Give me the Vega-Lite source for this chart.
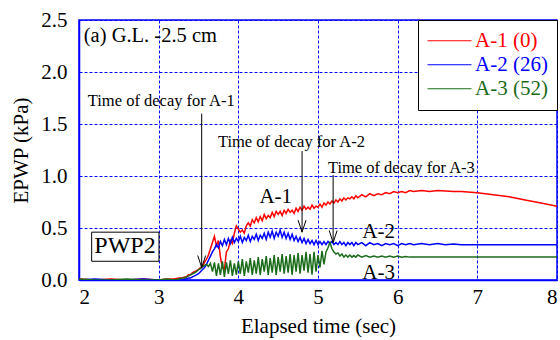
{
  "$schema": "https://vega.github.io/schema/vega-lite/v6.json",
  "width": 478,
  "height": 260,
  "autosize": "none",
  "padding": {"left": 79, "top": 20, "right": 3, "bottom": 60},
  "config": {
    "font": "Liberation Serif",
    "view": {"stroke": "#0000ff", "strokeWidth": 1.5},
    "axis": {
      "labelFont": "Liberation Serif", "titleFont": "Liberation Serif",
      "labelFontSize": 21, "titleFontSize": 21, "labelColor": "black", "titleColor": "black",
      "titleFontWeight": "normal", "gridColor": "#0000ff", "gridDash": [3, 2], "gridOpacity": 1,
      "gridWidth": 1, "domainColor": "#0000ff", "domainWidth": 1.5, "ticks": false
    },
    "legend": {"labelFont": "Liberation Serif"}
  },
  "datasets": {
    "ts": [
      {"t": 2.0, "a1": 0.01, "a2": 0.0, "a3": 0.01},
      {"t": 2.2, "a1": 0.0, "a2": 0.01, "a3": 0.0},
      {"t": 2.4, "a1": 0.01, "a2": 0.0, "a3": 0.0},
      {"t": 2.6, "a1": 0.0, "a2": 0.0, "a3": 0.01},
      {"t": 2.8, "a1": 0.01, "a2": 0.01, "a3": 0.0},
      {"t": 3.0, "a1": 0.0, "a2": 0.0, "a3": 0.0},
      {"t": 3.1, "a1": 0.01, "a2": 0.0, "a3": 0.01},
      {"t": 3.2, "a1": 0.01, "a2": 0.0, "a3": 0.0},
      {"t": 3.25, "a1": 0.02, "a2": 0.0, "a3": 0.01},
      {"t": 3.3, "a1": 0.02, "a2": 0.0, "a3": 0.02},
      {"t": 3.325, "a1": 0.03, "a2": 0.01, "a3": 0.02},
      {"t": 3.35, "a1": 0.03, "a2": 0.01, "a3": 0.03},
      {"t": 3.375, "a1": 0.05, "a2": 0.02, "a3": 0.04},
      {"t": 3.4, "a1": 0.05, "a2": 0.02, "a3": 0.05},
      {"t": 3.425, "a1": 0.07, "a2": 0.03, "a3": 0.06},
      {"t": 3.45, "a1": 0.08, "a2": 0.04, "a3": 0.07},
      {"t": 3.475, "a1": 0.09, "a2": 0.05, "a3": 0.08},
      {"t": 3.5, "a1": 0.1, "a2": 0.06, "a3": 0.1},
      {"t": 3.525, "a1": 0.12, "a2": 0.08, "a3": 0.11},
      {"t": 3.55, "a1": 0.13, "a2": 0.1, "a3": 0.13},
      {"t": 3.575, "a1": 0.17, "a2": 0.12, "a3": 0.14},
      {"t": 3.6, "a1": 0.2, "a2": 0.15, "a3": 0.15},
      {"t": 3.625, "a1": 0.24, "a2": 0.19, "a3": 0.13},
      {"t": 3.65, "a1": 0.3, "a2": 0.23, "a3": 0.16},
      {"t": 3.675, "a1": 0.36, "a2": 0.27, "a3": 0.08},
      {"t": 3.7, "a1": 0.42, "a2": 0.3, "a3": 0.17},
      {"t": 3.725, "a1": 0.33, "a2": 0.34, "a3": 0.04},
      {"t": 3.75, "a1": 0.38, "a2": 0.31, "a3": 0.16},
      {"t": 3.775, "a1": 0.22, "a2": 0.37, "a3": 0.05},
      {"t": 3.8, "a1": 0.12, "a2": 0.33, "a3": 0.18},
      {"t": 3.825, "a1": 0.1, "a2": 0.39, "a3": 0.03},
      {"t": 3.85, "a1": 0.27, "a2": 0.34, "a3": 0.17},
      {"t": 3.875, "a1": 0.3, "a2": 0.4, "a3": 0.06},
      {"t": 3.9, "a1": 0.38, "a2": 0.35, "a3": 0.19},
      {"t": 3.925, "a1": 0.35, "a2": 0.41, "a3": 0.04},
      {"t": 3.95, "a1": 0.45, "a2": 0.36, "a3": 0.16},
      {"t": 3.975, "a1": 0.52, "a2": 0.4, "a3": 0.05},
      {"t": 4.0, "a1": 0.49, "a2": 0.37, "a3": 0.18},
      {"t": 4.025, "a1": 0.46, "a2": 0.42, "a3": 0.06},
      {"t": 4.05, "a1": 0.48, "a2": 0.36, "a3": 0.2},
      {"t": 4.075, "a1": 0.45, "a2": 0.41, "a3": 0.04},
      {"t": 4.1, "a1": 0.52, "a2": 0.38, "a3": 0.18},
      {"t": 4.125, "a1": 0.55, "a2": 0.43, "a3": 0.07},
      {"t": 4.15, "a1": 0.52, "a2": 0.37, "a3": 0.21},
      {"t": 4.175, "a1": 0.58, "a2": 0.42, "a3": 0.05},
      {"t": 4.2, "a1": 0.55, "a2": 0.39, "a3": 0.19},
      {"t": 4.225, "a1": 0.6, "a2": 0.44, "a3": 0.06},
      {"t": 4.25, "a1": 0.56, "a2": 0.38, "a3": 0.22},
      {"t": 4.275, "a1": 0.61, "a2": 0.43, "a3": 0.05},
      {"t": 4.3, "a1": 0.57, "a2": 0.4, "a3": 0.2},
      {"t": 4.325, "a1": 0.63, "a2": 0.45, "a3": 0.08},
      {"t": 4.35, "a1": 0.59, "a2": 0.39, "a3": 0.23},
      {"t": 4.375, "a1": 0.62, "a2": 0.46, "a3": 0.05},
      {"t": 4.4, "a1": 0.6, "a2": 0.41, "a3": 0.21},
      {"t": 4.425, "a1": 0.65, "a2": 0.47, "a3": 0.07},
      {"t": 4.45, "a1": 0.61, "a2": 0.4, "a3": 0.24},
      {"t": 4.475, "a1": 0.66, "a2": 0.46, "a3": 0.05},
      {"t": 4.5, "a1": 0.63, "a2": 0.42, "a3": 0.22},
      {"t": 4.525, "a1": 0.66, "a2": 0.48, "a3": 0.08},
      {"t": 4.55, "a1": 0.62, "a2": 0.41, "a3": 0.25},
      {"t": 4.575, "a1": 0.67, "a2": 0.46, "a3": 0.06},
      {"t": 4.6, "a1": 0.64, "a2": 0.4, "a3": 0.23},
      {"t": 4.625, "a1": 0.68, "a2": 0.45, "a3": 0.07},
      {"t": 4.65, "a1": 0.65, "a2": 0.39, "a3": 0.25},
      {"t": 4.675, "a1": 0.67, "a2": 0.44, "a3": 0.05},
      {"t": 4.7, "a1": 0.64, "a2": 0.38, "a3": 0.24},
      {"t": 4.725, "a1": 0.69, "a2": 0.42, "a3": 0.08},
      {"t": 4.75, "a1": 0.66, "a2": 0.37, "a3": 0.26},
      {"t": 4.775, "a1": 0.7, "a2": 0.41, "a3": 0.06},
      {"t": 4.8, "a1": 0.67, "a2": 0.36, "a3": 0.24},
      {"t": 4.825, "a1": 0.71, "a2": 0.4, "a3": 0.09},
      {"t": 4.85, "a1": 0.68, "a2": 0.35, "a3": 0.27},
      {"t": 4.875, "a1": 0.7, "a2": 0.39, "a3": 0.07},
      {"t": 4.9, "a1": 0.68, "a2": 0.35, "a3": 0.25},
      {"t": 4.925, "a1": 0.72, "a2": 0.38, "a3": 0.05},
      {"t": 4.95, "a1": 0.69, "a2": 0.34, "a3": 0.27},
      {"t": 4.975, "a1": 0.71, "a2": 0.38, "a3": 0.08},
      {"t": 5.0, "a1": 0.7, "a2": 0.34, "a3": 0.24},
      {"t": 5.025, "a1": 0.73, "a2": 0.37, "a3": 0.12},
      {"t": 5.05, "a1": 0.7, "a2": 0.34, "a3": 0.28},
      {"t": 5.075, "a1": 0.74, "a2": 0.37, "a3": 0.15},
      {"t": 5.1, "a1": 0.72, "a2": 0.34, "a3": 0.27},
      {"t": 5.125, "a1": 0.75, "a2": 0.37, "a3": 0.31},
      {"t": 5.15, "a1": 0.73, "a2": 0.35, "a3": 0.36},
      {"t": 5.175, "a1": 0.76, "a2": 0.37, "a3": 0.3},
      {"t": 5.2, "a1": 0.74, "a2": 0.34, "a3": 0.27},
      {"t": 5.225, "a1": 0.77, "a2": 0.36, "a3": 0.25},
      {"t": 5.25, "a1": 0.75, "a2": 0.34, "a3": 0.26},
      {"t": 5.275, "a1": 0.78, "a2": 0.37, "a3": 0.23},
      {"t": 5.3, "a1": 0.76, "a2": 0.34, "a3": 0.25},
      {"t": 5.325, "a1": 0.79, "a2": 0.36, "a3": 0.22},
      {"t": 5.35, "a1": 0.77, "a2": 0.33, "a3": 0.24},
      {"t": 5.375, "a1": 0.79, "a2": 0.36, "a3": 0.22},
      {"t": 5.4, "a1": 0.78, "a2": 0.34, "a3": 0.24},
      {"t": 5.425, "a1": 0.8, "a2": 0.36, "a3": 0.22},
      {"t": 5.45, "a1": 0.78, "a2": 0.33, "a3": 0.235},
      {"t": 5.475, "a1": 0.81, "a2": 0.36, "a3": 0.22},
      {"t": 5.5, "a1": 0.79, "a2": 0.34, "a3": 0.24},
      {"t": 5.55, "a1": 0.82, "a2": 0.36, "a3": 0.22},
      {"t": 5.6, "a1": 0.8, "a2": 0.33, "a3": 0.235},
      {"t": 5.65, "a1": 0.83, "a2": 0.36, "a3": 0.22},
      {"t": 5.7, "a1": 0.81, "a2": 0.34, "a3": 0.23},
      {"t": 5.75, "a1": 0.83, "a2": 0.35, "a3": 0.22},
      {"t": 5.8, "a1": 0.82, "a2": 0.33, "a3": 0.23},
      {"t": 5.85, "a1": 0.84, "a2": 0.35, "a3": 0.22},
      {"t": 5.9, "a1": 0.83, "a2": 0.34, "a3": 0.23},
      {"t": 5.95, "a1": 0.85, "a2": 0.35, "a3": 0.22},
      {"t": 6.0, "a1": 0.84, "a2": 0.33, "a3": 0.23},
      {"t": 6.05, "a1": 0.85, "a2": 0.35, "a3": 0.22},
      {"t": 6.1, "a1": 0.84, "a2": 0.34, "a3": 0.225},
      {"t": 6.15, "a1": 0.86, "a2": 0.35, "a3": 0.22},
      {"t": 6.2, "a1": 0.85, "a2": 0.34, "a3": 0.22},
      {"t": 6.3, "a1": 0.86, "a2": 0.35, "a3": 0.22},
      {"t": 6.4, "a1": 0.85, "a2": 0.34, "a3": 0.22},
      {"t": 6.5, "a1": 0.86, "a2": 0.35, "a3": 0.22},
      {"t": 6.6, "a1": 0.855, "a2": 0.34, "a3": 0.22},
      {"t": 6.7, "a1": 0.85, "a2": 0.345, "a3": 0.22},
      {"t": 6.8, "a1": 0.85, "a2": 0.34, "a3": 0.22},
      {"t": 7.0, "a1": 0.84, "a2": 0.34, "a3": 0.22},
      {"t": 7.2, "a1": 0.82, "a2": 0.34, "a3": 0.22},
      {"t": 7.4, "a1": 0.8, "a2": 0.34, "a3": 0.22},
      {"t": 7.6, "a1": 0.77, "a2": 0.34, "a3": 0.22},
      {"t": 7.8, "a1": 0.74, "a2": 0.34, "a3": 0.22},
      {"t": 8.0, "a1": 0.71, "a2": 0.34, "a3": 0.22}
    ],
    "arrows": [
      {"x": 3.54, "y1": 1.6, "y2": 0.12},
      {"x": 4.8, "y1": 1.24, "y2": 0.46},
      {"x": 5.19, "y1": 1.01, "y2": 0.36}
    ],
    "decay": [
      {"x": 2.11, "y": 1.72, "label": "Time of decay for A-1"},
      {"x": 3.744, "y": 1.324, "label": "Time of decay for A-2"},
      {"x": 5.124, "y": 1.08, "label": "Time of decay for A-3"}
    ],
    "labels": [
      {"x": 2.06, "y": 2.35, "label": "(a) G.L. -2.5 cm", "align": "left"},
      {"x": 4.47, "y": 0.8, "label": "A-1"},
      {"x": 5.76, "y": 0.46, "label": "A-2"},
      {"x": 5.76, "y": 0.07, "label": "A-3"}
    ],
    "box": [
      {"x1": 2.159, "x2": 3.004, "y1": 0.46, "y2": 0.18, "xc": 2.577, "yc": 0.324, "label": "PWP2"}
    ]
  },
  "layer": [
    {
      "data": {"name": "ts"},
      "transform": [{"fold": ["a1", "a2", "a3"], "as": ["s", "v"]}],
      "mark": {"type": "line", "strokeWidth": 1.5, "clip": true},
      "encoding": {
        "x": {"field": "t", "type": "quantitative", "scale": {"domain": [2, 8], "nice": false},
              "axis": {"title": "Elapsed time (sec)", "values": [2, 3, 4, 5, 6, 7, 8], "format": "d",
                       "labelFont": "Liberation Serif", "titleFont": "Liberation Serif",
                       "labelPadding": 6, "titlePadding": 8}},
        "y": {"field": "v", "type": "quantitative", "scale": {"domain": [0, 2.5], "nice": false},
              "axis": {"title": "EPWP (kPa)", "values": [0, 0.5, 1, 1.5, 2, 2.5], "format": ".1f",
                       "labelFont": "Liberation Serif", "titleFont": "Liberation Serif",
                       "labelPadding": 12, "titlePadding": 9}},
        "color": {"field": "s", "type": "nominal",
                  "scale": {"domain": ["a1", "a2", "a3"], "range": ["#ff0000", "#0000ff", "#1a6b1a"]},
                  "legend": {"title": null, "orient": "top-right", "offset": 0,
                             "labelExpr": "datum.label == 'a1' ? 'A-1 (0)' : datum.label == 'a2' ? 'A-2 (26)' : 'A-3 (52)'",
                             "labelFont": "Liberation Serif", "labelFontSize": 21, "symbolType": "stroke",
                             "symbolSize": 1936, "symbolStrokeWidth": 1, "strokeColor": "black", "fillColor": "white",
                             "padding": 9, "rowPadding": 0, "labelOffset": 3, "clipHeight": 23.5,
                             "encode": {
                               "labels": {"update": {"fill": {"scale": "color", "field": "value"}, "font": {"value": "Liberation Serif"}}}}}}
      }
    },
    {
      "data": {"name": "arrows"},
      "mark": {"type": "rule", "color": "black", "strokeWidth": 1},
      "encoding": {
        "x": {"field": "x", "type": "quantitative"},
        "y": {"field": "y1", "type": "quantitative"},
        "y2": {"field": "y2"}
      }
    },
    {
      "data": {"name": "arrows"},
      "mark": {"type": "point", "shape": "M-0.33,-1L0,0L0.33,-1", "filled": false, "stroke": "black", "strokeWidth": 1, "size": 576, "opacity": 1},
      "encoding": {
        "x": {"field": "x", "type": "quantitative"},
        "y": {"field": "y2", "type": "quantitative"}
      }
    },
    {
      "data": {"name": "decay"},
      "mark": {"type": "text", "align": "left", "baseline": "middle", "fontSize": 16.5, "font": "Liberation Serif", "color": "black"},
      "encoding": {
        "x": {"field": "x", "type": "quantitative"},
        "y": {"field": "y", "type": "quantitative"},
        "text": {"field": "label"}
      }
    },
    {
      "data": {"name": "labels"},
      "transform": [{"filter": "datum.align == 'left'"}],
      "mark": {"type": "text", "align": "left", "baseline": "middle", "fontSize": 20.5, "font": "Liberation Serif", "color": "black"},
      "encoding": {
        "x": {"field": "x", "type": "quantitative"},
        "y": {"field": "y", "type": "quantitative"},
        "text": {"field": "label"}
      }
    },
    {
      "data": {"name": "labels"},
      "transform": [{"filter": "datum.align != 'left'"}],
      "mark": {"type": "text", "align": "center", "baseline": "middle", "fontSize": 21, "font": "Liberation Serif", "color": "black"},
      "encoding": {
        "x": {"field": "x", "type": "quantitative"},
        "y": {"field": "y", "type": "quantitative"},
        "text": {"field": "label"}
      }
    },
    {
      "data": {"name": "box"},
      "mark": {"type": "rect", "fill": "white", "stroke": "black", "strokeWidth": 1},
      "encoding": {
        "x": {"field": "x1", "type": "quantitative"},
        "x2": {"field": "x2"},
        "y": {"field": "y1", "type": "quantitative"},
        "y2": {"field": "y2"}
      }
    },
    {
      "data": {"name": "box"},
      "mark": {"type": "text", "align": "center", "baseline": "middle", "fontSize": 24, "font": "Liberation Serif", "color": "black"},
      "encoding": {
        "x": {"field": "xc", "type": "quantitative"},
        "y": {"field": "yc", "type": "quantitative"},
        "text": {"field": "label"}
      }
    }
  ]
}
